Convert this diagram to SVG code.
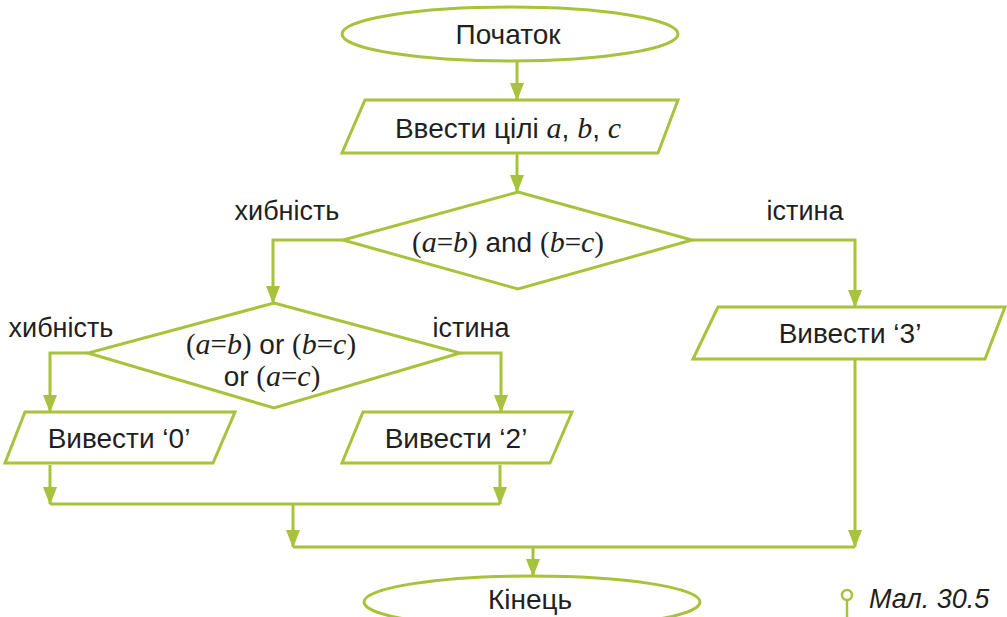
<svg xmlns="http://www.w3.org/2000/svg" width="1007" height="617" viewBox="0 0 1007 617">
  <style>
    .shape { fill: #ffffff; stroke: #a7c23b; stroke-width: 3; }
    .wire { fill: none; stroke: #a7c23b; stroke-width: 3; }
    .t { font-family: "Liberation Sans", Arial, sans-serif; font-size: 28px; fill: #231f20; text-anchor: middle; }
    .lbl { font-family: "Liberation Sans", Arial, sans-serif; font-size: 27px; fill: #231f20; text-anchor: middle; }
    .m { font-family: "Liberation Serif", "Times New Roman", serif; font-size: 29px; }
    .v { font-family: "Liberation Serif", "Times New Roman", serif; font-style: italic; font-size: 30px; }
    .cap { font-family: "Liberation Sans", Arial, sans-serif; font-size: 27px; font-style: italic; fill: #231f20; }
  </style>
  <defs>
    <!-- filled arrowhead, tip at the end of the path -->
    <marker id="ah" markerUnits="userSpaceOnUse" markerWidth="18" markerHeight="14" viewBox="0 0 18 14" refX="17" refY="7" orient="auto">
      <path d="M0,0 L18,7 L0,14 Z" fill="#a7c23b"/>
    </marker>
  </defs>

  <!-- connectors -->
  <g id="connectors">
    <path class="wire" d="M517,61 V100" marker-end="url(#ah)"/>
    <path class="wire" d="M517,153 V192" marker-end="url(#ah)"/>
    <path class="wire" d="M343,240 H273 V303" marker-end="url(#ah)"/>
    <path class="wire" d="M692,240 H855 V307" marker-end="url(#ah)"/>
    <path class="wire" d="M88,353 H50 V412" marker-end="url(#ah)"/>
    <path class="wire" d="M460,353 H501 V412" marker-end="url(#ah)"/>
    <path class="wire" d="M50,465 V504" marker-end="url(#ah)"/>
    <path class="wire" d="M500,465 V504" marker-end="url(#ah)"/>
    <path class="wire" d="M50,504 H500"/>
    <path class="wire" d="M293,504 V547" marker-end="url(#ah)"/>
    <path class="wire" d="M855,359 V547" marker-end="url(#ah)"/>
    <path class="wire" d="M293,547 H855"/>
    <path class="wire" d="M533,547 V576" marker-end="url(#ah)"/>
  </g>

  <!-- start -->
  <g id="start">
    <ellipse class="shape" cx="510" cy="34" rx="168" ry="27"/>
    <text class="t" x="508" y="44">Початок</text>
  </g>

  <!-- input -->
  <g id="input">
    <polygon class="shape" points="365,100 678,100 658,153 342,153"/>
    <text class="t" x="508" y="138">Ввести цілі <tspan class="v">a</tspan>, <tspan class="v">b</tspan>, <tspan class="v">c</tspan></text>
  </g>

  <!-- first check -->
  <g id="check-and">
    <polygon class="shape" points="518,192 692,240 518,289 343,240"/>
    <text class="t" x="508" y="252"><tspan class="m">(</tspan><tspan class="v">a</tspan><tspan class="m">=</tspan><tspan class="v">b</tspan><tspan class="m">)</tspan> and <tspan class="m">(</tspan><tspan class="v">b</tspan><tspan class="m">=</tspan><tspan class="v">c</tspan><tspan class="m">)</tspan></text>
    <text class="lbl" x="287" y="220">хибність</text>
    <text class="lbl" x="805" y="220">істина</text>
  </g>

  <!-- second check -->
  <g id="check-or">
    <polygon class="shape" points="274,303 460,353 274,408 88,353"/>
    <text class="t" x="271" y="354"><tspan class="m">(</tspan><tspan class="v">a</tspan><tspan class="m">=</tspan><tspan class="v">b</tspan><tspan class="m">)</tspan> or <tspan class="m">(</tspan><tspan class="v">b</tspan><tspan class="m">=</tspan><tspan class="v">c</tspan><tspan class="m">)</tspan></text>
    <text class="t" x="272" y="386">or <tspan class="m">(</tspan><tspan class="v">a</tspan><tspan class="m">=</tspan><tspan class="v">c</tspan><tspan class="m">)</tspan></text>
    <text class="lbl" x="61" y="337">хибність</text>
    <text class="lbl" x="471" y="337">істина</text>
  </g>

  <!-- outputs -->
  <g id="out0">
    <polygon class="shape" points="25,412 235,412 213,463 5,463"/>
    <text class="t" x="119" y="448">Вивести ‘0’</text>
  </g>
  <g id="out2">
    <polygon class="shape" points="363,412 572,412 550,463 342,463"/>
    <text class="t" x="456" y="448">Вивести ‘2’</text>
  </g>
  <g id="out3">
    <polygon class="shape" points="718,307 1005,307 985,359 693,359"/>
    <text class="t" x="850" y="343">Вивести ‘3’</text>
  </g>

  <!-- end -->
  <g id="end">
    <ellipse class="shape" cx="532" cy="602" rx="168" ry="26"/>
    <text class="t" x="530" y="609">Кінець</text>
  </g>

  <!-- caption -->
  <g id="caption">
    <circle cx="847" cy="595" r="5" fill="#ffffff" stroke="#a7c23b" stroke-width="2.5"/>
    <line x1="847" y1="600" x2="847" y2="617" stroke="#a7c23b" stroke-width="2.5"/>
    <text class="cap" x="869" y="608">Мал. 30.5</text>
  </g>
</svg>
